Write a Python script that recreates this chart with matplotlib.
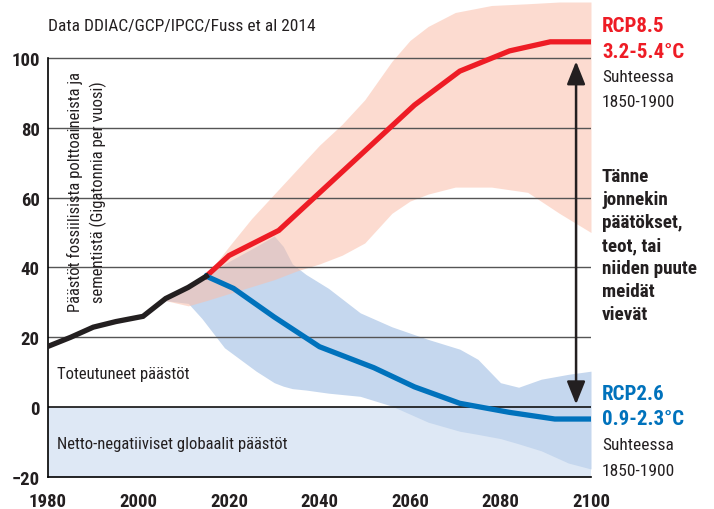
import matplotlib
matplotlib.use("Agg")
import matplotlib.pyplot as plt
from matplotlib import font_manager

# --- data ---
hist_years = [1980, 1985, 1990, 1995, 2001, 2006, 2011, 2015]
hist_vals = [17.4, 20.0, 22.9, 24.5, 26.0, 31.1, 34.3, 37.5]

rcp85_years = [2015, 2020, 2031, 2061, 2071, 2082, 2091, 2100]
rcp85_vals = [37.5, 43.4, 50.6, 86.5, 96.2, 102.0, 104.6, 104.6]

rcp26_years = [2015, 2021, 2030, 2040, 2052, 2061, 2071, 2082, 2092, 2100]
rcp26_vals = [37.5, 34.0, 25.8, 17.3, 11.3, 5.8, 1.1, -1.5, -3.4, -3.4]

band85_years = [2006, 2011, 2015, 2020, 2025, 2030, 2035, 2040, 2045, 2050,
                2056, 2060, 2064, 2070, 2078, 2086, 2093, 2100]
band85_low = [30.5, 29.0, 30.5, 32.5, 34.5, 36.5, 39.0, 41.0, 43.5, 47.0,
              55.5, 59.0, 61.0, 63.0, 63.0, 61.5, 55.5, 50.0]
band85_high = [30.5, 34.5, 37.7, 46.0, 54.0, 61.0, 68.0, 75.0, 81.0, 88.0,
               99.0, 105.0, 109.0, 113.0, 115.0, 115.5, 116.0, 116.0]

band26_years = [2006, 2011, 2014, 2019, 2026, 2030, 2032, 2034, 2037, 2042,
                2049, 2056, 2064, 2071, 2075, 2080, 2084, 2089, 2095, 2100]
band26_low = [30.5, 29.7, 25.4, 17.0, 10.3, 7.0, 6.0, 5.3, 4.9, 4.0,
              3.1, 0.3, -4.3, -6.9, -7.8, -9.0, -10.5, -12.5, -16.0, -17.7]
band26_high = [30.5, 34.5, 36.8, 41.0, 46.0, 49.0, 46.0, 41.0, 38.0, 34.0,
               27.0, 23.0, 19.4, 16.6, 13.7, 7.0, 5.7, 8.0, 9.4, 10.3]

x_ticks = [1980, 2000, 2020, 2040, 2060, 2080, 2100]
y_ticks = [-20, 0, 20, 40, 60, 80, 100]

RED = "#ee1c25"
BLUE = "#0072bc"

# condensed font if one is there
names = {f.name for f in font_manager.fontManager.ttflist}
cond = "DejaVu Sans"
for cand in ["Roboto Condensed", "Liberation Sans Narrow", "Open Sans Condensed"]:
    if cand in names:
        cond = cand
        break
scale = 1.0 if cond != "DejaVu Sans" else 0.86
plt.rcParams["font.family"] = [cond, "DejaVu Sans"]

W, H = 714, 510
fig = plt.figure(figsize=(W / 100, H / 100), dpi=100)
ax = fig.add_axes([48 / W, 32 / H, 543 / W, 475 / H])
ax.set_xlim(1980, 2100)
ax.set_ylim(-20, 116)


def fx(px):
    return px / W


def fy(py):
    return 1 - py / H


# negative zone
ax.axhspan(-20, 0, color="#dee8f5", zorder=0, lw=0)

# scenario ranges
ax.fill_between(band26_years, band26_low, band26_high, color="#c5d7ee", lw=0, zorder=1)
ax.fill_between(band85_years, band85_low, band85_high, color="#fabfaa", alpha=0.55, lw=0, zorder=2)

for yv in [20, 40, 60, 80, 100]:
    ax.axhline(yv, color="#555555", lw=1.0, zorder=3)
ax.axhline(0, color="#111111", lw=1.2, zorder=3)

# lines
ax.plot(rcp85_years, rcp85_vals, color=RED, lw=3.8, zorder=4, solid_joinstyle="miter")
ax.plot(rcp26_years, rcp26_vals, color=BLUE, lw=3.8, zorder=4, solid_joinstyle="miter")
ax.plot(hist_years, hist_vals, color="#231f20", lw=3.8, zorder=5, solid_joinstyle="miter")

# arrow between scenarios
ax.annotate("", xy=(2096.7, 0.8), xytext=(2096.7, 99.0),
            arrowprops=dict(arrowstyle="<|-|>,head_length=0.7,head_width=0.28",
                            mutation_scale=20, color="#231f20", lw=1.8,
                            shrinkA=0, shrinkB=0), zorder=6)

# axes styling
for s in ["top", "right"]:
    ax.spines[s].set_visible(False)
ax.spines["left"].set_bounds(-20, 100)
ax.spines["left"].set_linewidth(1.2)
ax.spines["bottom"].set_linewidth(1.2)
ax.spines["left"].set_zorder(3)
ax.set_xticks(x_ticks)
ax.set_yticks(y_ticks)
ax.tick_params(length=0, labelsize=13.5 * scale, pad=6)
for lab in ax.get_xticklabels() + ax.get_yticklabels():
    lab.set_fontweight("bold")
    lab.set_color("#231f20")
ax.tick_params(axis="x", pad=10.5)

# texts
fig.text(fx(48), fy(27), "Data DDIAC/GCP/IPCC/Fuss et al 2014", fontsize=12.5 * scale,
         ha="left", va="center", color="#231f20")
ax.text(0.072, 0.602, "Päästöt fossiilisista polttoaineista ja\nsementistä (Gigatonnia per vuosi)",
        transform=ax.transAxes, rotation=90, ha="center", va="center",
        multialignment="center", fontsize=12 * scale, color="#231f20", linespacing=1.45, zorder=7)
ax.text(1982, 9.5, "Toteutuneet päästöt", fontsize=12 * scale, va="center", color="#231f20", zorder=7)
ax.text(1982, -10.5, "Netto-negatiiviset globaalit päästöt", fontsize=12 * scale, va="center",
        color="#231f20", zorder=7)

tx = fx(602)
fig.text(tx, fy(27), "RCP8.5", color=RED, fontweight="bold", fontsize=15 * scale, va="center")
fig.text(tx, fy(52), "3.2-5.4°C", color=RED, fontweight="bold", fontsize=15 * scale, va="center")
fig.text(tx, fy(78), "Suhteessa", color="#231f20", fontsize=12.5 * scale, va="center")
fig.text(tx, fy(103), "1850-1900", color="#231f20", fontsize=12.5 * scale, va="center")

fig.text(tx, fy(246), "Tänne\njonnekin\npäätökset,\nteot, tai\nniiden puute\nmeidät\nvievät",
         color="#231f20", fontweight="bold", fontsize=13.8 * scale, va="center", linespacing=1.36)

fig.text(tx, fy(395), "RCP2.6", color=BLUE, fontweight="bold", fontsize=15 * scale, va="center")
fig.text(tx, fy(420), "0.9-2.3°C", color=BLUE, fontweight="bold", fontsize=15 * scale, va="center")
fig.text(tx, fy(446), "Suhteessa", color="#231f20", fontsize=12.5 * scale, va="center")
fig.text(tx, fy(471), "1850-1900", color="#231f20", fontsize=12.5 * scale, va="center")

fig.savefig("out.png", dpi=100)
